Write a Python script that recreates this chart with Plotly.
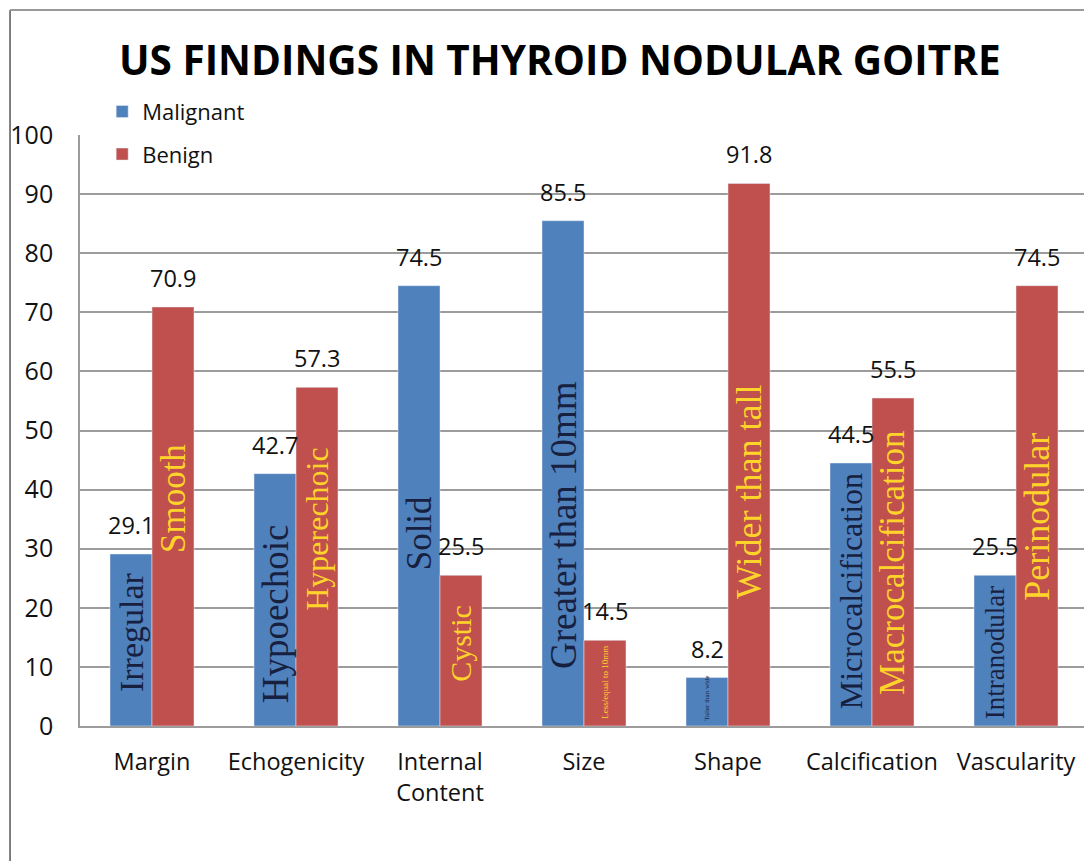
import plotly.graph_objects as go

categories = ["Margin", "Echogenicity", "Internal<br>Content", "Size", "Shape", "Calcification", "Vascularity"]
malignant = [29.1, 42.7, 74.5, 85.5, 8.2, 44.5, 25.5]
benign = [70.9, 57.3, 25.5, 14.5, 91.8, 55.5, 74.5]
malignant_labels = ["Irregular", "Hypoechoic", "Solid", "Greater than 10mm", "Taller than wide", "Microcalcification", "Intranodular"]
benign_labels = ["Smooth", "Hyperechoic", "Cystic", "Less/equal to 10mm", "Wider than tall", "Macrocalcification", "Perinodular"]
y_ticks = [0, 10, 20, 30, 40, 50, 60, 70, 80, 90, 100]

# style: where inner labels sit (value units) and their font sizes
mal_label_center = [15.9, 18.9, 32.6, 34.0, 4.6, 22.8, 12.3]
mal_label_size = [34, 37, 35, 37, 7, 32, 27]
ben_label_center = [38.4, 33.2, 13.9, 7.3, 39.6, 27.6, 35.4]
ben_label_size = [35, 32, 30, 9, 36, 35, 36]

BLUE = "#4F81BD"
RED = "#C0504D"
DARK = "#17203F"
YELLOW = "#FFD42A"
GRID = "#9C9C9C"
FONT = "Open Sans"

fig = go.Figure()
fig.add_trace(go.Bar(x=categories, y=malignant, name="Malignant", marker_color=BLUE,
                     legendgroup="m"))
fig.add_trace(go.Bar(x=categories, y=benign, name="Benign", marker_color=RED,
                     legendgroup="b"))

ann = []
for i, c in enumerate(categories):
    ann.append(dict(x=c, y=malignant[i], text=f"{malignant[i]:.1f}", showarrow=False,
                    xshift=-21, yanchor="bottom", yshift=11,
                    font=dict(family=FONT, size=23.5, color="#111")))
    ann.append(dict(x=c, y=benign[i], text=f"{benign[i]:.1f}", showarrow=False,
                    xshift=21, yanchor="bottom", yshift=11,
                    font=dict(family=FONT, size=23.5, color="#111")))
    ann.append(dict(x=c, y=mal_label_center[i], text=malignant_labels[i], showarrow=False,
                    xshift=-21, textangle=-90, xanchor="center", yanchor="middle",
                    font=dict(family="Liberation Serif", size=mal_label_size[i], color=DARK)))
    ann.append(dict(x=c, y=ben_label_center[i], text=benign_labels[i], showarrow=False,
                    xshift=21, textangle=-90, xanchor="center", yanchor="middle",
                    font=dict(family="Liberation Serif", size=ben_label_size[i], color=YELLOW)))

ann.append(dict(xref="paper", yref="paper", x=0.476, y=1.127, xanchor="center", yanchor="middle",
                text="<b>US FINDINGS IN THYROID NODULAR GOITRE</b>", showarrow=False,
                font=dict(family=FONT, size=40.5, color="#000")))

shapes = [
    dict(type="line", xref="paper", yref="paper", x0=-0.0694, x1=-0.0694, y0=1.2115, y1=-0.3,
         line=dict(color="#555", width=1.5)),
    dict(type="line", xref="paper", yref="paper", x0=-0.0694, x1=1.1, y0=1.2115, y1=1.2115,
         line=dict(color="#999", width=2)),
]

fig.update_layout(
    width=1092, height=861,
    margin=dict(l=72, r=12, t=127, b=143, autoexpand=False),
    paper_bgcolor="white", plot_bgcolor="white",
    barmode="group", bargap=0.4167, bargroupgap=0,
    font=dict(family=FONT, size=22, color="#111"),
    annotations=ann, shapes=shapes,
    legend=dict(x=0.022, y=1.075, xanchor="left", yanchor="top", traceorder="grouped",
                tracegroupgap=11, font=dict(family=FONT, size=22, color="#111"),
                bgcolor="rgba(0,0,0,0)", itemwidth=30),
    showlegend=True,
)
fig.update_yaxes(range=[0, 100], tickvals=y_ticks, showgrid=True, gridcolor=GRID, gridwidth=1.6,
                 showline=True, linecolor=GRID, linewidth=1.6, zeroline=False, automargin=False,
                 tickfont=dict(family=FONT, size=25, color="#111"), ticklabelstandoff=20)
fig.update_xaxes(showline=True, linecolor=GRID, linewidth=1.6, showgrid=False, automargin=False,
                 tickfont=dict(family=FONT, size=23.5, color="#111"), ticklabelstandoff=14)

fig.write_html("out.html")
